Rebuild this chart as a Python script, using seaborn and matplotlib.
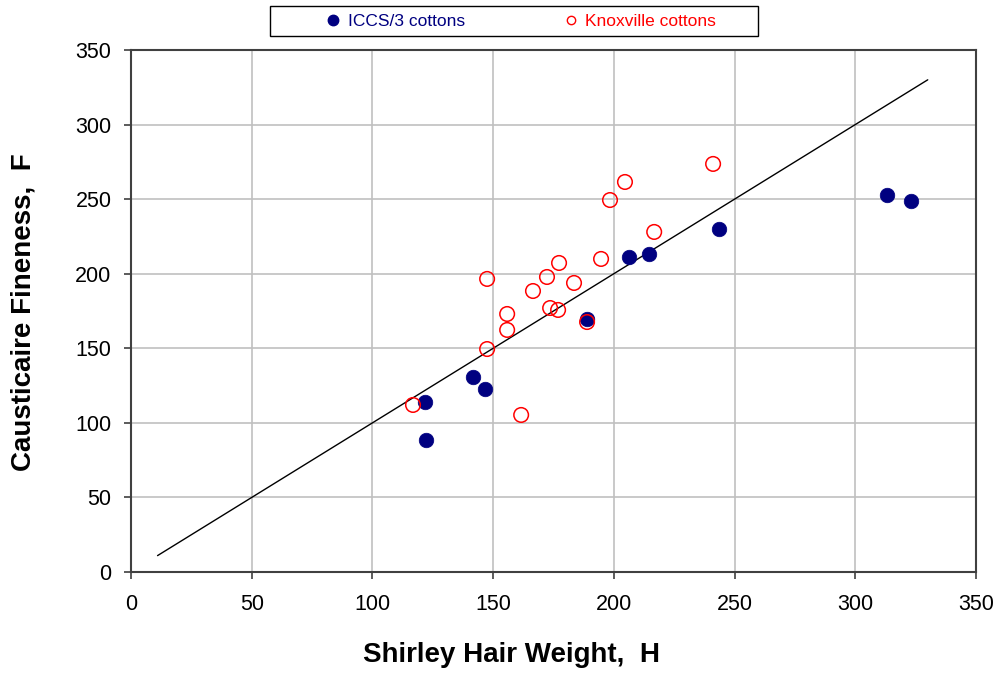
import numpy as np
import pandas as pd
import seaborn as sns
import matplotlib.pyplot as plt
from matplotlib.lines import Line2D
from matplotlib.patches import Rectangle

# ICCS/3 cottons (filled navy)
iccs_h = [121.8, 122.2, 141.7, 146.6, 188.9, 206.3, 214.6, 243.6, 313.2, 323.1]
iccs_f = [114.0, 88.5, 130.7, 122.7, 169.6, 211.2, 213.2, 230.0, 252.8, 248.8]

# Knoxville cottons (open red)
knox_h = [116.8, 161.6, 147.5, 147.5, 155.8, 155.8, 166.5, 172.3, 177.3, 173.6,
          176.9, 183.5, 188.9, 194.7, 198.4, 204.6, 216.7, 241.1]
knox_f = [112.0, 105.3, 149.5, 196.5, 162.3, 173.0, 188.4, 197.8, 207.2, 177.0,
          175.7, 193.8, 167.6, 209.9, 249.4, 261.5, 228.0, 273.6]

# 1:1 reference line
line_h = [11, 330]
line_f = [11, 330]

sns.set_theme(style="white")
plt.rcParams['font.family'] = ['Liberation Sans', 'DejaVu Sans']
plt.rcParams['text.color'] = 'black'
plt.rcParams['axes.labelcolor'] = 'black'
plt.rcParams['xtick.color'] = 'black'
plt.rcParams['ytick.color'] = 'black'

df_iccs = pd.DataFrame({"H": iccs_h, "F": iccs_f})
df_knox = pd.DataFrame({"H": knox_h, "F": knox_f})
df_line = pd.DataFrame({"H": line_h, "F": line_f})

fig = plt.figure(figsize=(10.03, 6.8), dpi=100)
ax = fig.add_axes([0.1306, 0.1588, 0.8425, 0.7677])

sns.lineplot(data=df_line, x="H", y="F", ax=ax, color="black", linewidth=1.0)
sns.scatterplot(data=df_iccs, x="H", y="F", ax=ax, color="#000080", s=110,
                edgecolor="#000080", linewidth=0.5, zorder=3)
sns.scatterplot(data=df_knox, x="H", y="F", ax=ax, facecolor="none", s=110,
                edgecolor="#ff0000", linewidth=1.1, zorder=4)

ax.set_xlim(0, 350)
ax.set_ylim(0, 350)
ax.set_xticks(np.arange(0, 351, 50))
ax.set_yticks(np.arange(0, 351, 50))
ax.grid(True, color="#c0c0c0", linewidth=1.2)
ax.set_axisbelow(True)
for sp in ax.spines.values():
    sp.set_color("#404040")
    sp.set_linewidth(1.5)
ax.tick_params(axis="both", which="major", labelsize=15.5, length=5, width=1.2,
               color="#404040", direction="out", bottom=True, left=True)
ax.tick_params(axis="x", pad=11)
ax.tick_params(axis="y", pad=9)

ax.set_xlabel("Shirley Hair Weight,  H", fontsize=20, fontweight="bold")
ax.set_ylabel("Causticaire Fineness,  F", fontsize=20, fontweight="bold")
ax.xaxis.set_label_coords(0.450, -0.134)
ax.yaxis.set_label_coords(-0.112, 0.498)

# legend box drawn like the original (square frame across the top)
fig.patches.append(Rectangle((270 / 1003, 1 - 36 / 680), 488 / 1003, 30 / 680,
                             transform=fig.transFigure, facecolor="white",
                             edgecolor="black", linewidth=1.0, zorder=0))

handles = [
    Line2D([], [], linestyle="none", marker="o", markersize=7.5,
           markerfacecolor="#000080", markeredgecolor="#000080"),
    Line2D([], [], linestyle="none", marker="o", markersize=6,
           markerfacecolor="none", markeredgecolor="#ff0000", markeredgewidth=1),
]
leg = fig.legend(handles, ["ICCS/3 cottons", "Knoxville cottons"], ncol=2,
                 loc="center left", bbox_to_anchor=(326 / 1003, 1 - 21 / 680),
                 fontsize=12.5, frameon=False, borderpad=0, borderaxespad=0,
                 handlelength=0.8, handletextpad=0.45, columnspacing=5.7)
for txt, c in zip(leg.get_texts(), ["#000080", "#ff0000"]):
    txt.set_color(c)

fig.savefig("out.png", dpi=100)
